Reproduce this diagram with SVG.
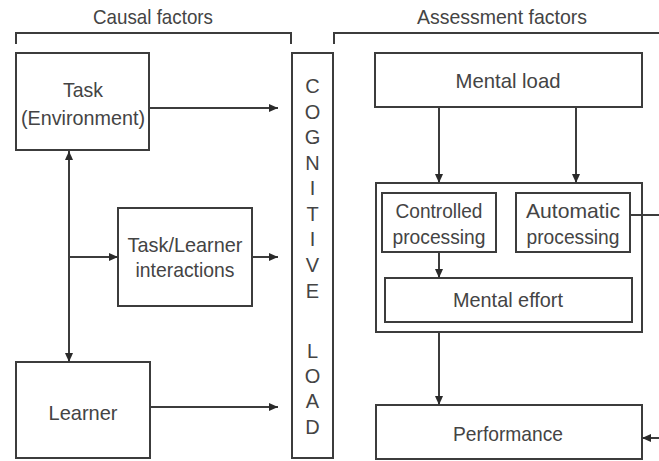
<svg xmlns="http://www.w3.org/2000/svg" width="659" height="461" viewBox="0 0 659 461">
<style>
.box{fill:#fff;stroke:#3c3c3c;stroke-width:2}
.ln{fill:none;stroke:#3c3c3c;stroke-width:2}
.t{font-family:"Liberation Sans",Arial,sans-serif;font-size:21px;fill:#444;text-anchor:middle}
.cl{font-family:"Liberation Sans",Arial,sans-serif;font-size:20px;fill:#444;text-anchor:middle}
</style>
<defs>
<marker id="ah" markerUnits="userSpaceOnUse" markerWidth="10" markerHeight="9" refX="9" refY="4" orient="auto-start-reverse">
<path d="M0,0 L9,4 L0,8 z" fill="#2a2a2a"/>
</marker>
</defs>
<rect width="659" height="461" fill="#fff"/>

<g id="brackets">
<path class="ln" d="M16,44 V33 H291 V44"/>
<path class="ln" d="M334,44 V33 H659"/>
<text class="t" x="153" y="24" textLength="120" lengthAdjust="spacingAndGlyphs">Causal factors</text>
<text class="t" x="502" y="24" textLength="170" lengthAdjust="spacingAndGlyphs">Assessment factors</text>
</g>

<g id="task">
<rect class="box" x="16" y="53" width="133" height="97"/>
<text class="t" x="83" y="97" textLength="40" lengthAdjust="spacingAndGlyphs">Task</text>
<text class="t" x="83" y="125" textLength="124" lengthAdjust="spacingAndGlyphs">(Environment)</text>
</g>

<g id="task-learner">
<rect class="box" x="118" y="208" width="134" height="98"/>
<text class="t" x="185" y="252" textLength="115" lengthAdjust="spacingAndGlyphs">Task/Learner</text>
<text class="t" x="185" y="277" textLength="99" lengthAdjust="spacingAndGlyphs">interactions</text>
</g>

<g id="learner">
<rect class="box" x="16" y="362" width="134" height="96"/>
<text class="t" x="83" y="420" textLength="69" lengthAdjust="spacingAndGlyphs">Learner</text>
</g>

<g id="cognitive-load">
<rect class="box" x="292" y="53" width="41" height="405"/>
<text class="cl" x="312.5" y="93">C</text>
<text class="cl" x="312.5" y="119">O</text>
<text class="cl" x="312.5" y="144">G</text>
<text class="cl" x="312.5" y="170">N</text>
<text class="cl" x="312.5" y="195">I</text>
<text class="cl" x="312.5" y="221">T</text>
<text class="cl" x="312.5" y="246">I</text>
<text class="cl" x="312.5" y="272">V</text>
<text class="cl" x="312.5" y="298">E</text>
<text class="cl" x="312.5" y="358">L</text>
<text class="cl" x="312.5" y="383">O</text>
<text class="cl" x="312.5" y="408">A</text>
<text class="cl" x="312.5" y="434">D</text>
</g>

<g id="mental-load">
<rect class="box" x="375" y="53" width="267" height="54"/>
<text class="t" x="508" y="88" textLength="105" lengthAdjust="spacingAndGlyphs">Mental load</text>
</g>

<g id="processing-group">
<rect class="box" x="376" y="183" width="266" height="149"/>
</g>

<g id="controlled">
<rect class="box" x="382" y="193" width="114" height="59"/>
<text class="t" x="439" y="218" textLength="87" lengthAdjust="spacingAndGlyphs">Controlled</text>
<text class="t" x="439" y="244" textLength="93" lengthAdjust="spacingAndGlyphs">processing</text>
</g>

<g id="automatic">
<rect class="box" x="516" y="193" width="114" height="59"/>
<text class="t" x="573" y="218" textLength="94" lengthAdjust="spacingAndGlyphs">Automatic</text>
<text class="t" x="573" y="244" textLength="93" lengthAdjust="spacingAndGlyphs">processing</text>
</g>

<g id="mental-effort">
<rect class="box" x="385" y="278" width="247" height="44"/>
<text class="t" x="508" y="307" textLength="110" lengthAdjust="spacingAndGlyphs">Mental effort</text>
</g>

<g id="performance">
<rect class="box" x="376" y="405" width="266" height="54"/>
<text class="t" x="508" y="441" textLength="110" lengthAdjust="spacingAndGlyphs">Performance</text>
</g>

<g id="connectors">
<line class="ln" x1="149" y1="108" x2="278" y2="108" marker-end="url(#ah)"/>
<line class="ln" x1="69" y1="151" x2="69" y2="362" marker-start="url(#ah)" marker-end="url(#ah)"/>
<line class="ln" x1="69" y1="257" x2="118" y2="257" marker-end="url(#ah)"/>
<line class="ln" x1="252" y1="257" x2="278" y2="257" marker-end="url(#ah)"/>
<line class="ln" x1="150" y1="407" x2="278" y2="407" marker-end="url(#ah)"/>
<line class="ln" x1="439" y1="107" x2="439" y2="183" marker-end="url(#ah)"/>
<line class="ln" x1="576" y1="107" x2="576" y2="183" marker-end="url(#ah)"/>
<line class="ln" x1="439" y1="252" x2="439" y2="278" marker-end="url(#ah)"/>
<line class="ln" x1="439" y1="332" x2="439" y2="405" marker-end="url(#ah)"/>
<line class="ln" x1="630" y1="215" x2="659" y2="215"/>
<line class="ln" x1="659" y1="438" x2="642" y2="438" marker-end="url(#ah)"/>
</g>
</svg>
